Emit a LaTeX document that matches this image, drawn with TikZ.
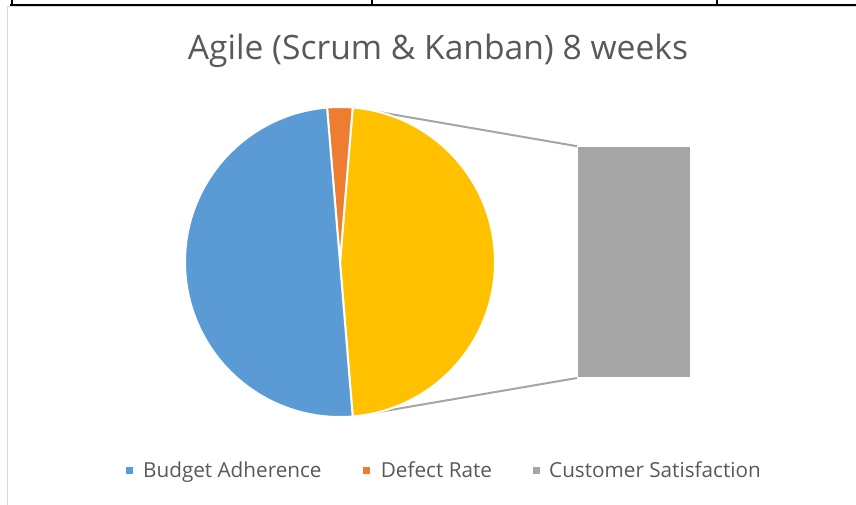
\documentclass[tikz,border=0pt]{standalone}
\usepackage{fontspec}
\setmainfont{Open Sans}
\usetikzlibrary{calc}
\definecolor{cblue}{HTML}{5B9BD5}
\definecolor{corange}{HTML}{ED7D31}
\definecolor{cgray}{HTML}{A5A5A5}
\definecolor{cyellow}{HTML}{FFC000}
\definecolor{ctext}{HTML}{595959}
\definecolor{cframe}{HTML}{D9D9D9}
\begin{document}
\begin{tikzpicture}[x=1pt,y=1pt,
  slice/.style={draw=white,line width=2pt,line join=round},
  conn/.style={draw=cgray,line width=2pt},
  legsq/.style={minimum size=7pt,inner sep=0pt,draw=none},
  legtxt/.style={anchor=base west,inner sep=0pt,text=ctext,font=\fontsize{20.7}{24}\selectfont},
  tablerule/.style={draw=black,line width=1.3pt}]
\useasboundingbox (0,0) rectangle (856,504);
% table remnants at top
\draw[tablerule] (10,499) -- (856,499);
\draw[tablerule] (12,504) -- (12,499);
\draw[tablerule] (372,504) -- (372,499);
\draw[tablerule] (717,504) -- (717,499);
% chart area frame
\draw[cframe,line width=1pt] (7,-2) -- (7,497) -- (860,497);
% title
\node[text=ctext,font=\fontsize{33.6}{38}\selectfont,anchor=base] (title) at (438,444) {Agile (Scrum \& Kanban) 8 weeks};
% pie geometry
\coordinate (c) at (340,242);
\coordinate (ytop) at ($(c)+(85.3:155)$);
\coordinate (ybot) at ($(c)+(-85.3:155)$);
% bar
\node[fill=cgray,draw=white,line width=0.8pt,minimum width=113pt,minimum height=231pt,inner sep=0pt,anchor=south west] (bar) at (577,126) {};
% connectors (behind pie)
\draw[conn] (ytop) -- (bar.north west);
\draw[conn] (ybot) -- (bar.south west);
% slices
\fill[cyellow,slice] (c) -- ++(-85.3:155) arc[start angle=-85.3,end angle=85.3,radius=155] -- cycle;
\fill[corange,slice] (c) -- ++(85.3:155) arc[start angle=85.3,end angle=94.8,radius=155] -- cycle;
\fill[cblue,slice] (c) -- ++(94.8:155) arc[start angle=94.8,end angle=274.7,radius=155] -- cycle;
% legend
\node[legsq,fill=cblue] (lb) at (129.5,34) {};
\node[legtxt] (tb) at (143,27) {Budget Adherence};
\node[legsq,fill=corange] (lo) at (366.7,34) {};
\node[legtxt] (to) at (380.7,27) {Defect Rate};
\node[legsq,fill=cgray] (lg) at (536.7,34) {};
\node[legtxt] (tg) at (549,27) {Customer Satisfaction};
\end{tikzpicture}
\end{document}
